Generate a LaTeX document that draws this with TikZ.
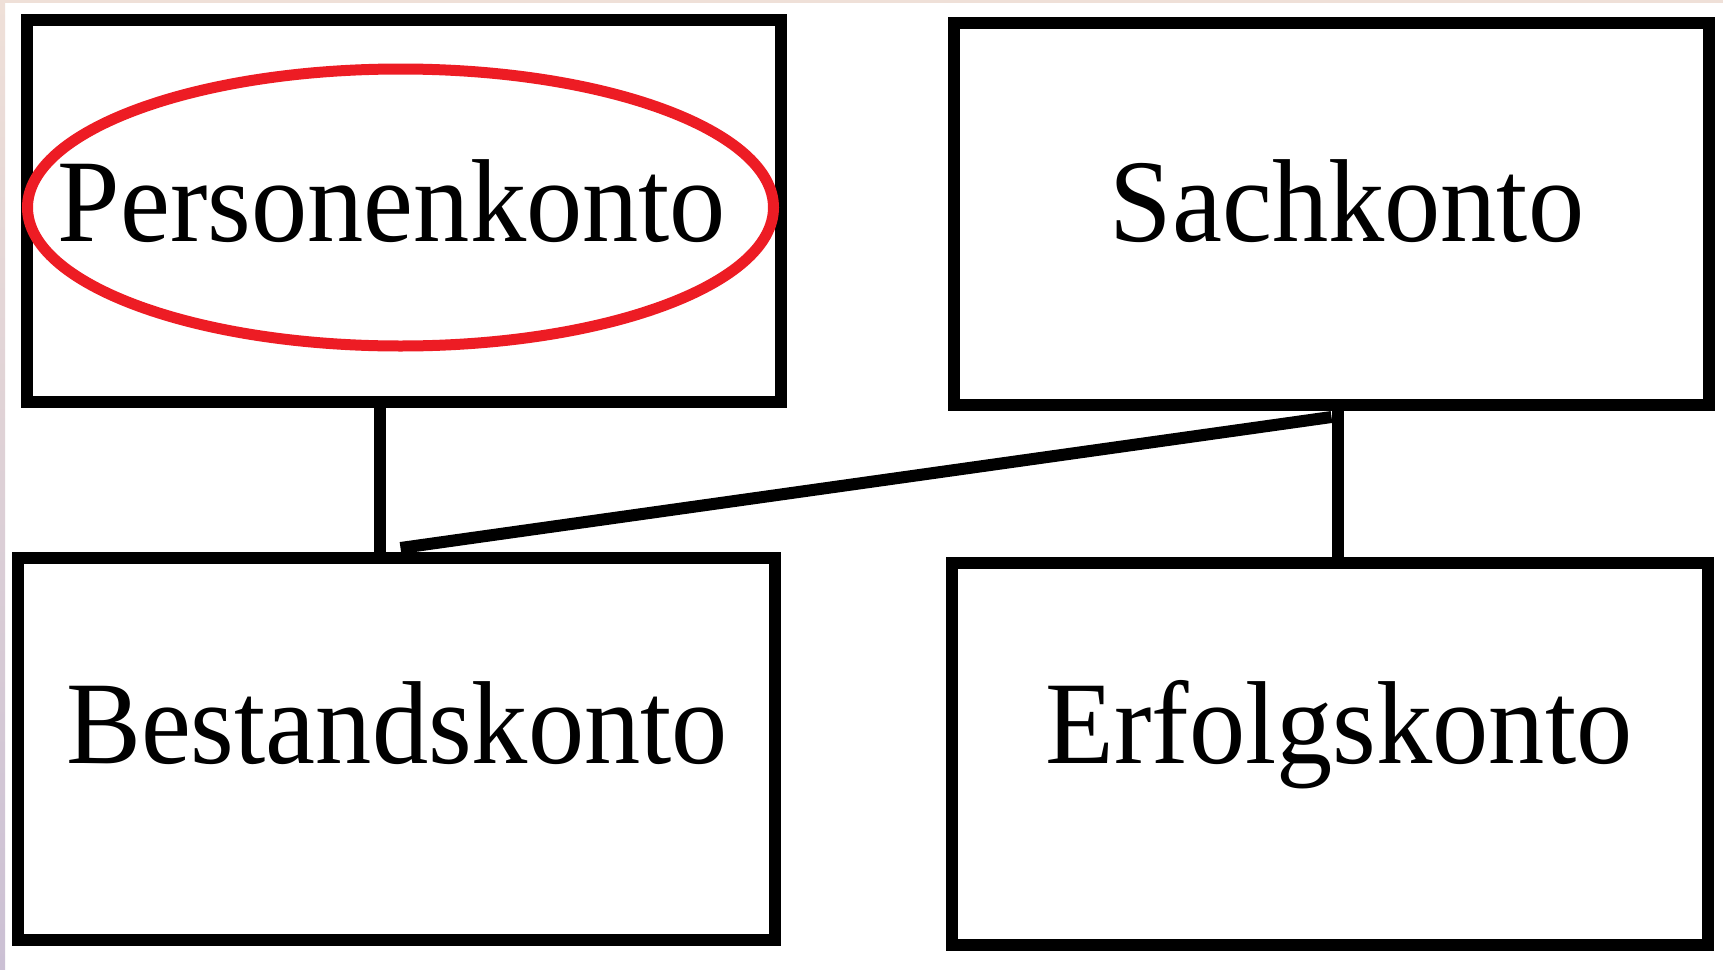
\documentclass[tikz,border=0pt]{standalone}
\usepackage{fontspec}
\setmainfont{Liberation Serif}
\usetikzlibrary{calc,shapes.geometric}
\definecolor{ovalred}{HTML}{ED1C24}
\definecolor{edgetop}{HTML}{EFE0D8}
\definecolor{edgebot}{HTML}{CBC0D4}
\tikzset{
  kbox/.style={draw=black, line width=6pt, fill=white, rectangle, inner sep=0pt,
    minimum width=#1*0.5pt, minimum height=191pt},
  ktext/.style={anchor=base, inner sep=0pt,
    font=\fontsize{56.2}{60}\selectfont},
  conn/.style={line width=6pt, black},
}
\newcommand{\kt}[1]{\scalebox{1}[1.05]{#1}}
\begin{document}
\begin{tikzpicture}[x=0.5pt,y=-0.5pt]
\useasboundingbox (0,0) rectangle (1723,969);
\fill[white] (0,0) rectangle (1723,969);
\fill[edgetop] (0,0) rectangle (1723,3);
\shade[top color=edgetop, bottom color=edgebot] (0,0) rectangle (5,969);
% boxes
\node[kbox=754] (pk) at (404,211) {};
\node[kbox=755] (sk) at (1331.5,214) {};
\node[kbox=757] (bk) at (396.5,749) {};
\node[kbox=756] (ek) at (1330,754) {};
% connectors
\coordinate (pkv) at ($(pk.south)+(-24,0)$);
\coordinate (skv) at ($(sk.south)+(6.5,0)$);
\coordinate (skd) at ($(sk.south)+(0,6)$);
\coordinate (bkd) at ($(bk.north)+(4,-4)$);
\draw[conn] (pkv) -- (pkv |- bk.north);
\draw[conn] (skv) -- (skv |- ek.north);
\draw[conn] (skd) -- (bkd);
% oval
\node[draw=ovalred, line width=5.5pt, ellipse, inner sep=0pt,
  minimum width=373pt, minimum height=138.5pt] (oval) at (400.5,207.5) {};
% texts
\node[ktext] (pkt) at (392,241) {\kt{Personenkonto}};
\node[ktext] (skt) at (1347,241) {\kt{Sachkonto}};
\node[ktext] (bkt) at (397,763) {\kt{Bestandskonto}};
\node[ktext] (ekt) at (1339,763) {\kt{Erfolgskonto}};
\end{tikzpicture}
\end{document}
